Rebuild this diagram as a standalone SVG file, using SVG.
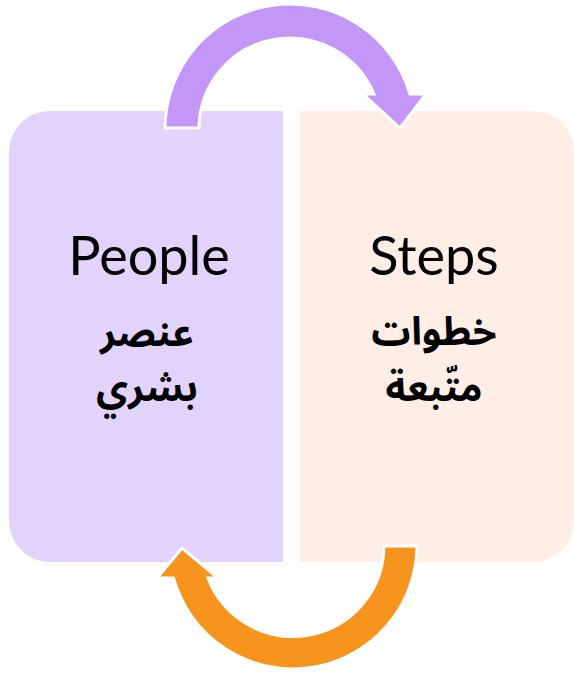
<svg xmlns="http://www.w3.org/2000/svg" width="574" height="674" viewBox="0 0 574 674">
<style>
.en{font-family:Lato,"Open Sans","Liberation Sans",sans-serif;font-weight:400;font-size:54px;fill:#000;text-anchor:middle}
.ar{font-family:"Noto Sans Arabic","DejaVu Sans","Liberation Sans",sans-serif;font-weight:bold;font-size:39px;fill:#000;text-anchor:middle}
.arrow{stroke:#fff;stroke-width:3;stroke-linejoin:miter}
</style>
<rect width="574" height="674" fill="#fff"/>
<g id="people">
<path d="M50,111 H283 V562 H50 A41,41 0 0 1 9,521 V152 A41,41 0 0 1 50,111 Z" fill="#E1D3FB"/>
<text class="en" x="149" y="275">People</text>
<text class="ar" x="147" y="346" direction="rtl">عنصر</text>
<text class="ar" x="147" y="401" direction="rtl">بشري</text>
</g>
<g id="steps">
<path d="M300,111 H533 A41,41 0 0 1 574,152 V521 A41,41 0 0 1 533,562 H300 Z" fill="#FFEEE6"/>
<text class="en" x="434" y="275">Steps</text>
<text class="ar" x="434" y="345" direction="rtl">خطوات</text>
<text class="ar" x="434" y="401" direction="rtl">متّبعة</text>
</g>
<g id="connectors">
<path class="arrow" fill="#C397F8" d="M165,128 A125,125 0 0 1 410,94 L426,94 L400,128 L363,94 L374,94 A91,91 0 0 0 199,128 Z"/>
<path class="arrow" fill="#F7941D" d="M417,546 A124,124 0 0 1 173.5,578 L157,578 L182,548 L218,578 L208,578 A91,91 0 0 0 384,546 Z"/>
</g>
</svg>
